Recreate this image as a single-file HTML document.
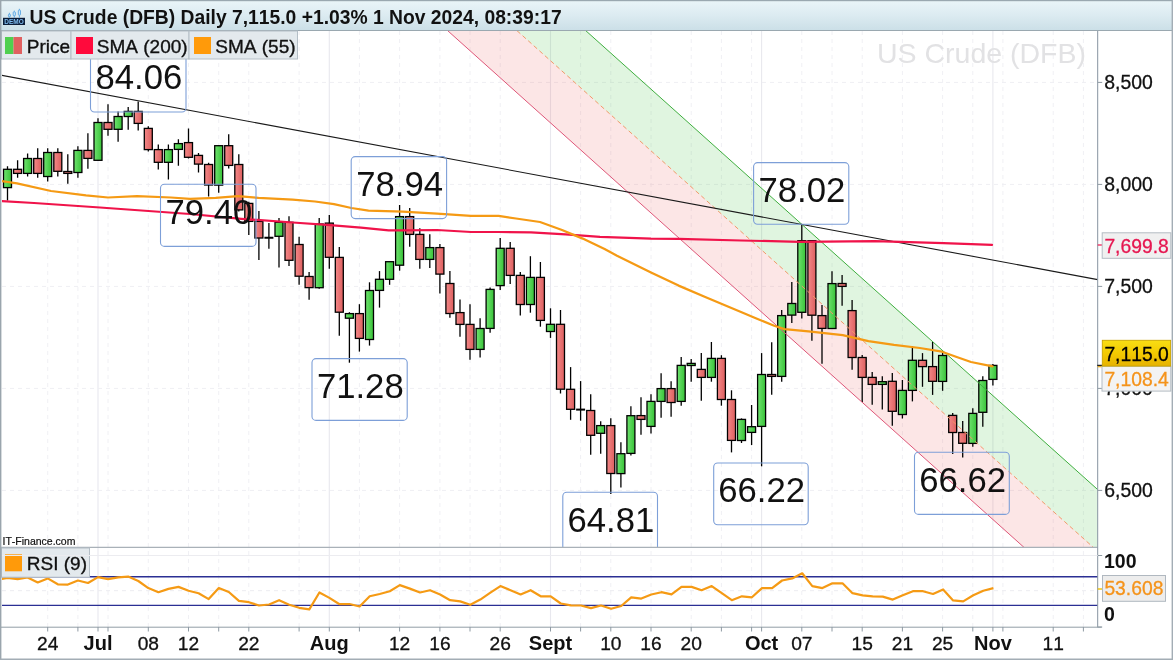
<!DOCTYPE html><html><head><meta charset="utf-8"><title>US Crude</title>
<style>html,body{margin:0;padding:0;background:#fff;}body{width:1173px;height:660px;overflow:hidden;font-family:"Liberation Sans",sans-serif;}svg{display:block;will-change:transform;opacity:0.9999;}text{font-family:"Liberation Sans",sans-serif;font-kerning:none;}</style></head><body>
<svg width="1173" height="660" viewBox="0 0 1173 660">
<defs>
<linearGradient id="tb" x1="0" y1="0" x2="0" y2="1"><stop offset="0" stop-color="#eaf5f9"/><stop offset="0.5" stop-color="#dcebf1"/><stop offset="1" stop-color="#cbdfe7"/></linearGradient>
<linearGradient id="gg" x1="0" y1="0" x2="1" y2="0"><stop offset="0" stop-color="#6fe36f"/><stop offset="1" stop-color="#38c238"/></linearGradient>
<linearGradient id="rg" x1="0" y1="0" x2="1" y2="0"><stop offset="0" stop-color="#f38888"/><stop offset="1" stop-color="#dd5f5f"/></linearGradient>
<linearGradient id="yg" x1="0" y1="0" x2="0" y2="1"><stop offset="0" stop-color="#f9de14"/><stop offset="0.55" stop-color="#f2c800"/><stop offset="1" stop-color="#e6b200"/></linearGradient>
<clipPath id="cc"><rect x="2" y="31" width="1095.7" height="516.3"/></clipPath>
<clipPath id="rc"><rect x="2" y="548" width="1095.7" height="79"/></clipPath>
</defs>
<rect x="0" y="0" width="1173" height="660" fill="#ffffff"/>
<g id="grid" fill="none">
<line x1="47.7" y1="31" x2="47.7" y2="627" stroke="#f0f0f4" stroke-width="1" stroke-dasharray="4 4"/>
<line x1="77.9" y1="31" x2="77.9" y2="627" stroke="#f0f0f4" stroke-width="1" stroke-dasharray="4 4"/>
<line x1="98.0" y1="31" x2="98.0" y2="627" stroke="#e8e8ee" stroke-width="1.1"/>
<line x1="108.0" y1="31" x2="108.0" y2="627" stroke="#f0f0f4" stroke-width="1" stroke-dasharray="4 4"/>
<line x1="148.3" y1="31" x2="148.3" y2="627" stroke="#f0f0f4" stroke-width="1" stroke-dasharray="4 4"/>
<line x1="188.5" y1="31" x2="188.5" y2="627" stroke="#f0f0f4" stroke-width="1" stroke-dasharray="4 4"/>
<line x1="218.7" y1="31" x2="218.7" y2="627" stroke="#f0f0f4" stroke-width="1" stroke-dasharray="4 4"/>
<line x1="248.8" y1="31" x2="248.8" y2="627" stroke="#f0f0f4" stroke-width="1" stroke-dasharray="4 4"/>
<line x1="299.1" y1="31" x2="299.1" y2="627" stroke="#f0f0f4" stroke-width="1" stroke-dasharray="4 4"/>
<line x1="329.3" y1="31" x2="329.3" y2="627" stroke="#e8e8ee" stroke-width="1.1"/>
<line x1="359.4" y1="31" x2="359.4" y2="627" stroke="#f0f0f4" stroke-width="1" stroke-dasharray="4 4"/>
<line x1="399.6" y1="31" x2="399.6" y2="627" stroke="#f0f0f4" stroke-width="1" stroke-dasharray="4 4"/>
<line x1="439.9" y1="31" x2="439.9" y2="627" stroke="#f0f0f4" stroke-width="1" stroke-dasharray="4 4"/>
<line x1="470.0" y1="31" x2="470.0" y2="627" stroke="#f0f0f4" stroke-width="1" stroke-dasharray="4 4"/>
<line x1="500.2" y1="31" x2="500.2" y2="627" stroke="#f0f0f4" stroke-width="1" stroke-dasharray="4 4"/>
<line x1="550.5" y1="31" x2="550.5" y2="627" stroke="#e8e8ee" stroke-width="1.1"/>
<line x1="580.6" y1="31" x2="580.6" y2="627" stroke="#f0f0f4" stroke-width="1" stroke-dasharray="4 4"/>
<line x1="610.8" y1="31" x2="610.8" y2="627" stroke="#f0f0f4" stroke-width="1" stroke-dasharray="4 4"/>
<line x1="651.0" y1="31" x2="651.0" y2="627" stroke="#f0f0f4" stroke-width="1" stroke-dasharray="4 4"/>
<line x1="691.2" y1="31" x2="691.2" y2="627" stroke="#f0f0f4" stroke-width="1" stroke-dasharray="4 4"/>
<line x1="721.4" y1="31" x2="721.4" y2="627" stroke="#f0f0f4" stroke-width="1" stroke-dasharray="4 4"/>
<line x1="751.6" y1="31" x2="751.6" y2="627" stroke="#f0f0f4" stroke-width="1" stroke-dasharray="4 4"/>
<line x1="761.6" y1="31" x2="761.6" y2="627" stroke="#e8e8ee" stroke-width="1.1"/>
<line x1="801.8" y1="31" x2="801.8" y2="627" stroke="#f0f0f4" stroke-width="1" stroke-dasharray="4 4"/>
<line x1="832.0" y1="31" x2="832.0" y2="627" stroke="#f0f0f4" stroke-width="1" stroke-dasharray="4 4"/>
<line x1="862.2" y1="31" x2="862.2" y2="627" stroke="#f0f0f4" stroke-width="1" stroke-dasharray="4 4"/>
<line x1="902.4" y1="31" x2="902.4" y2="627" stroke="#f0f0f4" stroke-width="1" stroke-dasharray="4 4"/>
<line x1="942.6" y1="31" x2="942.6" y2="627" stroke="#f0f0f4" stroke-width="1" stroke-dasharray="4 4"/>
<line x1="972.8" y1="31" x2="972.8" y2="627" stroke="#f0f0f4" stroke-width="1" stroke-dasharray="4 4"/>
<line x1="992.9" y1="31" x2="992.9" y2="627" stroke="#e8e8ee" stroke-width="1.1"/>
<line x1="1002.9" y1="31" x2="1002.9" y2="627" stroke="#f0f0f4" stroke-width="1" stroke-dasharray="4 4"/>
<line x1="1053.2" y1="31" x2="1053.2" y2="627" stroke="#f0f0f4" stroke-width="1" stroke-dasharray="4 4"/>
<line x1="1083.4" y1="31" x2="1083.4" y2="627" stroke="#f0f0f4" stroke-width="1" stroke-dasharray="4 4"/>
<line x1="2" y1="82.4" x2="1097.7" y2="82.4" stroke="#efeff3" stroke-width="1" stroke-dasharray="4 4"/>
<line x1="2" y1="184.4" x2="1097.7" y2="184.4" stroke="#efeff3" stroke-width="1" stroke-dasharray="4 4"/>
<line x1="2" y1="286.4" x2="1097.7" y2="286.4" stroke="#efeff3" stroke-width="1" stroke-dasharray="4 4"/>
<line x1="2" y1="388.4" x2="1097.7" y2="388.4" stroke="#efeff3" stroke-width="1" stroke-dasharray="4 4"/>
<line x1="2" y1="490.4" x2="1097.7" y2="490.4" stroke="#efeff3" stroke-width="1" stroke-dasharray="4 4"/>
<line x1="2" y1="590.7" x2="1097.7" y2="590.7" stroke="#ececf0" stroke-width="1" stroke-dasharray="4 4"/>
</g>
<text x="981.5" y="62.5" font-size="28.5" fill="#e2e2e4" text-anchor="middle">US Crude (DFB)</text>
<g clip-path="url(#cc)">
<polygon points="447.7,30.7 517.0,30.7 1094.0,548 1024.7,548" fill="rgb(235,80,80)" fill-opacity="0.145"/>
<polygon points="517.0,30.7 585.8,30.7 1097.7,489.6 1097.7,548 1094.0,548" fill="rgb(60,190,60)" fill-opacity="0.16"/>
</g>
<g clip-path="url(#cc)" stroke="#000" stroke-width="1.3">
<line x1="7.5" y1="166.2" x2="7.5" y2="200.4"/>
<rect x="3.5" y="169.3" width="8" height="18.3" fill="url(#gg)"/>
<line x1="17.6" y1="160.2" x2="17.6" y2="177.7"/>
<rect x="13.6" y="169.3" width="8" height="4.1" fill="url(#rg)"/>
<line x1="27.6" y1="153.4" x2="27.6" y2="176.5"/>
<rect x="23.6" y="158.5" width="8" height="14.9" fill="url(#gg)"/>
<line x1="37.7" y1="148.2" x2="37.7" y2="177.7"/>
<rect x="33.7" y="158.5" width="8" height="14.9" fill="url(#rg)"/>
<line x1="47.7" y1="148.2" x2="47.7" y2="181.6"/>
<rect x="43.7" y="152.5" width="8" height="24.0" fill="url(#gg)"/>
<line x1="57.8" y1="148.2" x2="57.8" y2="176.5"/>
<rect x="53.8" y="152.5" width="8" height="18.8" fill="url(#rg)"/>
<line x1="67.8" y1="154.2" x2="67.8" y2="183.7"/>
<rect x="63.8" y="171.5" width="8" height="1.9" fill="url(#rg)"/>
<line x1="77.9" y1="146.2" x2="77.9" y2="177.7"/>
<rect x="73.9" y="150.4" width="8" height="22.1" fill="url(#gg)"/>
<line x1="87.9" y1="133.2" x2="87.9" y2="168.8"/>
<rect x="83.9" y="150.4" width="8" height="8.0" fill="url(#rg)"/>
<line x1="98.0" y1="118.3" x2="98.0" y2="160.4"/>
<rect x="94.0" y="122.5" width="8" height="37.8" fill="url(#gg)"/>
<line x1="108.0" y1="104.2" x2="108.0" y2="135.7"/>
<rect x="104.0" y="122.5" width="8" height="6.8" fill="url(#rg)"/>
<line x1="118.1" y1="111.4" x2="118.1" y2="141.7"/>
<rect x="114.1" y="116.5" width="8" height="12.8" fill="url(#gg)"/>
<line x1="128.2" y1="107.1" x2="128.2" y2="129.7"/>
<rect x="124.2" y="111.4" width="8" height="5.1" fill="url(#gg)"/>
<line x1="138.2" y1="101.6" x2="138.2" y2="130.6"/>
<rect x="134.2" y="111.4" width="8" height="12.0" fill="url(#rg)"/>
<line x1="148.3" y1="126.3" x2="148.3" y2="151.6"/>
<rect x="144.3" y="128.4" width="8" height="21.2" fill="url(#rg)"/>
<line x1="158.3" y1="144.5" x2="158.3" y2="169.6"/>
<rect x="154.3" y="149.6" width="8" height="12.7" fill="url(#rg)"/>
<line x1="168.4" y1="144.5" x2="168.4" y2="179.6"/>
<rect x="164.4" y="149.6" width="8" height="12.7" fill="url(#gg)"/>
<line x1="178.4" y1="139.3" x2="178.4" y2="165.7"/>
<rect x="174.4" y="143.6" width="8" height="5.8" fill="url(#gg)"/>
<line x1="188.5" y1="128.4" x2="188.5" y2="158.5"/>
<rect x="184.5" y="142.6" width="8" height="14.7" fill="url(#rg)"/>
<line x1="198.5" y1="152.9" x2="198.5" y2="172.6"/>
<rect x="194.5" y="155.4" width="8" height="8.7" fill="url(#rg)"/>
<line x1="208.6" y1="162.8" x2="208.6" y2="196.5"/>
<rect x="204.6" y="164.5" width="8" height="20.5" fill="url(#rg)"/>
<line x1="218.7" y1="145.3" x2="218.7" y2="192.8"/>
<rect x="214.7" y="145.7" width="8" height="39.4" fill="url(#gg)"/>
<line x1="228.7" y1="134.2" x2="228.7" y2="168.5"/>
<rect x="224.7" y="145.7" width="8" height="19.7" fill="url(#rg)"/>
<line x1="238.8" y1="154.2" x2="238.8" y2="211.6"/>
<rect x="234.8" y="164.5" width="8" height="45.4" fill="url(#rg)"/>
<line x1="248.8" y1="201.7" x2="248.8" y2="235.1"/>
<rect x="244.8" y="203.4" width="8" height="18.0" fill="url(#rg)"/>
<line x1="258.9" y1="211.1" x2="258.9" y2="259.9"/>
<rect x="254.9" y="221.4" width="8" height="16.6" fill="url(#rg)"/>
<line x1="268.9" y1="223.1" x2="268.9" y2="248.8"/>
<line x1="264.4" y1="237.7" x2="273.4" y2="237.7" stroke-width="2"/>
<line x1="279.0" y1="218.0" x2="279.0" y2="267.6"/>
<rect x="275.0" y="222.3" width="8" height="14.0" fill="url(#gg)"/>
<line x1="289.0" y1="216.3" x2="289.0" y2="265.9"/>
<rect x="285.0" y="222.3" width="8" height="38.0" fill="url(#rg)"/>
<line x1="299.1" y1="236.8" x2="299.1" y2="284.8"/>
<rect x="295.1" y="244.5" width="8" height="31.7" fill="url(#rg)"/>
<line x1="309.1" y1="271.9" x2="309.1" y2="299.8"/>
<rect x="305.1" y="276.5" width="8" height="11.1" fill="url(#rg)"/>
<line x1="319.2" y1="218.0" x2="319.2" y2="288.7"/>
<rect x="315.2" y="224.0" width="8" height="63.7" fill="url(#gg)"/>
<line x1="329.3" y1="215.1" x2="329.3" y2="268.8"/>
<rect x="325.3" y="223.1" width="8" height="34.2" fill="url(#rg)"/>
<line x1="339.3" y1="247.1" x2="339.3" y2="335.8"/>
<rect x="335.3" y="257.4" width="8" height="54.8" fill="url(#rg)"/>
<line x1="349.4" y1="312.2" x2="349.4" y2="362.7"/>
<rect x="345.4" y="313.6" width="8" height="4.6" fill="url(#gg)"/>
<line x1="359.4" y1="304.2" x2="359.4" y2="351.6"/>
<rect x="355.4" y="313.6" width="8" height="24.8" fill="url(#rg)"/>
<line x1="369.5" y1="282.3" x2="369.5" y2="345.6"/>
<rect x="365.5" y="290.5" width="8" height="49.0" fill="url(#gg)"/>
<line x1="379.5" y1="271.1" x2="379.5" y2="307.6"/>
<rect x="375.5" y="279.3" width="8" height="11.1" fill="url(#gg)"/>
<line x1="389.6" y1="261.7" x2="389.6" y2="284.8"/>
<rect x="385.6" y="261.7" width="8" height="17.6" fill="url(#gg)"/>
<line x1="399.6" y1="205.1" x2="399.6" y2="270.7"/>
<rect x="395.6" y="216.6" width="8" height="48.6" fill="url(#gg)"/>
<line x1="409.7" y1="208.0" x2="409.7" y2="246.7"/>
<rect x="405.7" y="216.6" width="8" height="17.8" fill="url(#rg)"/>
<line x1="419.8" y1="228.2" x2="419.8" y2="268.8"/>
<rect x="415.8" y="234.4" width="8" height="25.0" fill="url(#rg)"/>
<line x1="429.8" y1="234.2" x2="429.8" y2="267.9"/>
<rect x="425.8" y="247.6" width="8" height="11.8" fill="url(#gg)"/>
<line x1="439.9" y1="244.0" x2="439.9" y2="293.6"/>
<rect x="435.9" y="247.6" width="8" height="26.5" fill="url(#rg)"/>
<line x1="449.9" y1="271.1" x2="449.9" y2="317.7"/>
<rect x="445.9" y="283.5" width="8" height="30.0" fill="url(#rg)"/>
<line x1="460.0" y1="299.4" x2="460.0" y2="336.7"/>
<rect x="456.0" y="312.6" width="8" height="11.8" fill="url(#rg)"/>
<line x1="470.0" y1="304.2" x2="470.0" y2="359.8"/>
<rect x="466.0" y="324.4" width="8" height="25.0" fill="url(#rg)"/>
<line x1="480.1" y1="318.2" x2="480.1" y2="357.6"/>
<rect x="476.1" y="328.5" width="8" height="20.9" fill="url(#gg)"/>
<line x1="490.1" y1="287.4" x2="490.1" y2="332.7"/>
<rect x="486.1" y="289.4" width="8" height="39.0" fill="url(#gg)"/>
<line x1="500.2" y1="238.0" x2="500.2" y2="289.9"/>
<rect x="496.2" y="248.3" width="8" height="37.3" fill="url(#gg)"/>
<line x1="510.2" y1="242.0" x2="510.2" y2="283.9"/>
<rect x="506.2" y="248.3" width="8" height="27.1" fill="url(#rg)"/>
<line x1="520.3" y1="272.0" x2="520.3" y2="315.6"/>
<rect x="516.3" y="275.4" width="8" height="29.1" fill="url(#rg)"/>
<line x1="530.4" y1="256.2" x2="530.4" y2="312.7"/>
<rect x="526.4" y="277.4" width="8" height="27.1" fill="url(#gg)"/>
<line x1="540.4" y1="262.0" x2="540.4" y2="326.7"/>
<rect x="536.4" y="277.4" width="8" height="43.0" fill="url(#rg)"/>
<line x1="550.5" y1="308.3" x2="550.5" y2="337.9"/>
<rect x="546.5" y="324.3" width="8" height="7.2" fill="url(#gg)"/>
<line x1="560.5" y1="310.0" x2="560.5" y2="393.5"/>
<rect x="556.5" y="324.3" width="8" height="64.9" fill="url(#rg)"/>
<line x1="570.6" y1="367.1" x2="570.6" y2="419.8"/>
<rect x="566.6" y="389.3" width="8" height="20.0" fill="url(#rg)"/>
<line x1="580.6" y1="381.1" x2="580.6" y2="420.7"/>
<line x1="576.1" y1="409.6" x2="585.1" y2="409.6" stroke-width="2"/>
<line x1="590.7" y1="394.3" x2="590.7" y2="454.7"/>
<rect x="586.7" y="410.5" width="8" height="24.8" fill="url(#rg)"/>
<line x1="600.7" y1="421.3" x2="600.7" y2="453.7"/>
<rect x="596.7" y="425.6" width="8" height="7.7" fill="url(#gg)"/>
<line x1="610.8" y1="418.3" x2="610.8" y2="494.1"/>
<rect x="606.8" y="425.6" width="8" height="47.9" fill="url(#rg)"/>
<line x1="620.9" y1="442.2" x2="620.9" y2="487.6"/>
<rect x="616.9" y="453.7" width="8" height="19.9" fill="url(#gg)"/>
<line x1="630.9" y1="406.3" x2="630.9" y2="455.6"/>
<rect x="626.9" y="415.7" width="8" height="37.7" fill="url(#gg)"/>
<line x1="641.0" y1="397.3" x2="641.0" y2="434.8"/>
<rect x="637.0" y="415.6" width="8" height="3.8" fill="url(#rg)"/>
<line x1="651.0" y1="394.2" x2="651.0" y2="433.6"/>
<rect x="647.0" y="401.4" width="8" height="25.0" fill="url(#gg)"/>
<line x1="661.1" y1="373.2" x2="661.1" y2="417.8"/>
<rect x="657.1" y="388.6" width="8" height="12.8" fill="url(#gg)"/>
<line x1="671.1" y1="381.2" x2="671.1" y2="416.8"/>
<rect x="667.1" y="388.6" width="8" height="13.9" fill="url(#rg)"/>
<line x1="681.2" y1="357.1" x2="681.2" y2="405.7"/>
<rect x="677.2" y="365.4" width="8" height="36.0" fill="url(#gg)"/>
<line x1="691.2" y1="359.1" x2="691.2" y2="381.7"/>
<rect x="687.2" y="363.4" width="8" height="2.1" fill="url(#gg)"/>
<line x1="701.3" y1="353.1" x2="701.3" y2="400.7"/>
<rect x="697.3" y="369.4" width="8" height="8.0" fill="url(#rg)"/>
<line x1="711.4" y1="342.0" x2="711.4" y2="381.7"/>
<rect x="707.4" y="358.4" width="8" height="19.0" fill="url(#gg)"/>
<line x1="721.4" y1="355.2" x2="721.4" y2="405.7"/>
<rect x="717.4" y="358.4" width="8" height="41.1" fill="url(#rg)"/>
<line x1="731.5" y1="390.3" x2="731.5" y2="452.4"/>
<rect x="727.5" y="399.5" width="8" height="40.9" fill="url(#rg)"/>
<line x1="741.5" y1="418.4" x2="741.5" y2="443.0"/>
<rect x="737.5" y="419.4" width="8" height="21.1" fill="url(#gg)"/>
<line x1="751.6" y1="405.0" x2="751.6" y2="445.1"/>
<rect x="747.6" y="426.7" width="8" height="5.7" fill="url(#gg)"/>
<line x1="761.6" y1="353.1" x2="761.6" y2="466.3"/>
<rect x="757.6" y="374.5" width="8" height="51.9" fill="url(#gg)"/>
<line x1="771.7" y1="342.3" x2="771.7" y2="394.7"/>
<rect x="767.7" y="374.5" width="8" height="1.9" fill="url(#rg)"/>
<line x1="781.7" y1="309.9" x2="781.7" y2="381.7"/>
<rect x="777.7" y="315.6" width="8" height="60.8" fill="url(#gg)"/>
<line x1="791.8" y1="282.1" x2="791.8" y2="322.9"/>
<rect x="787.8" y="303.5" width="8" height="11.6" fill="url(#gg)"/>
<line x1="801.8" y1="224.9" x2="801.8" y2="318.6"/>
<rect x="797.8" y="240.7" width="8" height="71.6" fill="url(#gg)"/>
<line x1="811.9" y1="240.7" x2="811.9" y2="340.7"/>
<rect x="807.9" y="240.7" width="8" height="74.5" fill="url(#rg)"/>
<line x1="822.0" y1="305.1" x2="822.0" y2="363.7"/>
<rect x="818.0" y="315.6" width="8" height="12.8" fill="url(#rg)"/>
<line x1="832.0" y1="271.2" x2="832.0" y2="329.1"/>
<rect x="828.0" y="283.6" width="8" height="44.9" fill="url(#gg)"/>
<line x1="842.1" y1="274.9" x2="842.1" y2="305.8"/>
<rect x="838.1" y="283.5" width="8" height="2.9" fill="url(#rg)"/>
<line x1="852.1" y1="300.0" x2="852.1" y2="369.7"/>
<rect x="848.1" y="310.6" width="8" height="46.9" fill="url(#rg)"/>
<line x1="862.2" y1="355.1" x2="862.2" y2="401.9"/>
<rect x="858.2" y="357.5" width="8" height="19.9" fill="url(#rg)"/>
<line x1="872.2" y1="371.9" x2="872.2" y2="404.8"/>
<rect x="868.2" y="377.4" width="8" height="7.0" fill="url(#rg)"/>
<line x1="882.3" y1="376.2" x2="882.3" y2="409.6"/>
<rect x="878.3" y="381.7" width="8" height="2.7" fill="url(#gg)"/>
<line x1="892.3" y1="373.1" x2="892.3" y2="425.7"/>
<rect x="888.3" y="381.3" width="8" height="30.0" fill="url(#rg)"/>
<line x1="902.4" y1="380.0" x2="902.4" y2="418.5"/>
<rect x="898.4" y="390.4" width="8" height="24.1" fill="url(#gg)"/>
<line x1="912.4" y1="346.2" x2="912.4" y2="401.4"/>
<rect x="908.4" y="360.3" width="8" height="30.1" fill="url(#gg)"/>
<line x1="922.5" y1="353.1" x2="922.5" y2="386.8"/>
<rect x="918.5" y="360.3" width="8" height="6.3" fill="url(#rg)"/>
<line x1="932.6" y1="342.0" x2="932.6" y2="394.9"/>
<rect x="928.6" y="366.6" width="8" height="14.7" fill="url(#rg)"/>
<line x1="942.6" y1="351.7" x2="942.6" y2="390.8"/>
<rect x="938.6" y="355.5" width="8" height="25.9" fill="url(#gg)"/>
<line x1="952.7" y1="413.0" x2="952.7" y2="454.1"/>
<rect x="948.7" y="415.4" width="8" height="17.1" fill="url(#rg)"/>
<line x1="962.7" y1="421.1" x2="962.7" y2="457.5"/>
<rect x="958.7" y="432.5" width="8" height="10.8" fill="url(#rg)"/>
<line x1="972.8" y1="408.2" x2="972.8" y2="446.7"/>
<rect x="968.8" y="413.4" width="8" height="30.0" fill="url(#gg)"/>
<line x1="982.8" y1="376.2" x2="982.8" y2="426.7"/>
<rect x="978.8" y="380.5" width="8" height="31.8" fill="url(#gg)"/>
<line x1="992.9" y1="364.0" x2="992.9" y2="385.6"/>
<rect x="988.9" y="365.4" width="8" height="14.0" fill="url(#gg)"/>
</g>
<g clip-path="url(#cc)">
<line x1="447.7" y1="30.7" x2="1024.7" y2="548" stroke="#de5678" stroke-width="1"/>
<line x1="585.8" y1="30.7" x2="1097.7" y2="489.6" stroke="#3fae3f" stroke-width="1"/>
<line x1="517.0" y1="30.7" x2="1094.0" y2="548" stroke="#f2986a" stroke-width="1" stroke-dasharray="4.5 3"/>
<line x1="0" y1="75" x2="1097.7" y2="279.6" stroke="#1a1a1a" stroke-width="1.1"/>
</g>
<g clip-path="url(#cc)" fill="none" stroke-linejoin="round" stroke-linecap="round">
<path d="M0.0,201.0 L34.0,203.0 L100.0,207.5 L190.0,214.0 L241.4,218.8 L292.7,222.5 L327.0,224.8 L361.0,227.7 L388.6,230.4 L402.7,230.3 L437.0,230.0 L471.0,232.0 L498.6,232.0 L531.0,232.3 L565.6,234.3 L600.0,236.8 L651.0,238.6 L678.6,238.8 L741.0,240.5 L800.0,241.8 L875.0,241.1 L943.5,243.2 L992.0,244.9" stroke="#f0134a" stroke-width="2.2"/>
<path d="M0.0,180.8 L17.0,183.3 L51.0,191.0 L86.0,195.3 L108.0,197.5 L137.0,196.2 L171.0,197.5 L190.0,198.8 L215.7,197.9 L238.0,196.2 L258.5,197.9 L292.7,199.6 L315.0,201.5 L334.0,204.2 L351.4,208.0 L368.5,210.6 L402.7,211.6 L437.0,213.7 L471.0,215.9 L498.6,215.9 L516.0,218.5 L540.0,222.0 L562.0,230.0 L582.7,238.6 L604.6,249.0 L617.0,255.7 L651.0,272.5 L678.6,285.6 L707.0,297.7 L741.0,312.0 L757.0,318.8 L774.2,325.7 L784.5,329.1 L808.5,331.3 L842.7,335.1 L868.4,341.1 L894.0,344.9 L919.8,348.0 L942.0,351.7 L956.0,356.8 L971.0,362.0 L992.5,366.3" stroke="#f59a14" stroke-width="2.25"/>
</g>
<g clip-path="url(#cc)">
<rect x="90.5" y="50" width="95.5" height="62" rx="4" ry="4" fill="none" stroke="#7d9fd8" stroke-width="1.1"/>
<text x="138.9" y="89.3" font-size="34.7" fill="#111" text-anchor="middle">84.06</text>
<rect x="160.5" y="184.2" width="95.5" height="62.20000000000002" rx="4" ry="4" fill="none" stroke="#7d9fd8" stroke-width="1.1"/>
<text x="208.9" y="223.5" font-size="34.7" fill="#111" text-anchor="middle">79.40</text>
<rect x="351.2" y="156.6" width="95.40000000000003" height="62.0" rx="4" ry="4" fill="none" stroke="#7d9fd8" stroke-width="1.1"/>
<text x="399.6" y="195.9" font-size="34.7" fill="#111" text-anchor="middle">78.94</text>
<rect x="312" y="358.6" width="95.19999999999999" height="61.799999999999955" rx="4" ry="4" fill="none" stroke="#7d9fd8" stroke-width="1.1"/>
<text x="360.3" y="397.9" font-size="34.7" fill="#111" text-anchor="middle">71.28</text>
<rect x="562.8" y="492.3" width="94.70000000000005" height="61.69999999999999" rx="4" ry="4" fill="none" stroke="#7d9fd8" stroke-width="1.1"/>
<text x="610.9" y="531.6" font-size="34.7" fill="#111" text-anchor="middle">64.81</text>
<rect x="713.7" y="463" width="94.5" height="61.799999999999955" rx="4" ry="4" fill="none" stroke="#7d9fd8" stroke-width="1.1"/>
<text x="761.7" y="502.3" font-size="34.7" fill="#111" text-anchor="middle">66.22</text>
<rect x="753.6" y="162.6" width="95.19999999999993" height="61.599999999999994" rx="4" ry="4" fill="none" stroke="#7d9fd8" stroke-width="1.1"/>
<text x="801.9" y="201.9" font-size="34.7" fill="#111" text-anchor="middle">78.02</text>
<rect x="914.5" y="452.2" width="94.79999999999995" height="62.19999999999999" rx="4" ry="4" fill="none" stroke="#7d9fd8" stroke-width="1.1"/>
<text x="962.6" y="491.5" font-size="34.7" fill="#111" text-anchor="middle">66.62</text>
</g>
<text x="2.5" y="545.3" font-size="10.5" fill="#111" stroke="#111" stroke-width="0.2">IT-Finance.com</text>
<line x1="0" y1="547.3" x2="1097.7" y2="547.3" stroke="#a9b1b8" stroke-width="1.2"/>
<line x1="2" y1="576.7" x2="1097.7" y2="576.7" stroke="#2b2f94" stroke-width="1.35"/>
<line x1="2" y1="605.3" x2="1097.7" y2="605.3" stroke="#2b2f94" stroke-width="1.35"/>
<g clip-path="url(#rc)"><path d="M0.0,579.2 L7.5,577.9 L17.6,579.2 L27.6,577.4 L37.7,582.5 L47.7,578.4 L57.8,584.3 L67.9,584.6 L77.9,580.5 L88.0,583.0 L98.0,577.1 L108.1,579.2 L118.2,577.4 L128.2,576.6 L138.3,581.0 L148.3,588.1 L158.4,592.2 L168.5,588.9 L178.5,586.9 L188.6,590.7 L198.6,593.2 L208.7,599.1 L218.8,588.1 L228.8,592.0 L238.9,600.9 L248.9,602.2 L259.0,605.5 L269.1,604.5 L279.1,600.2 L289.2,604.8 L299.2,607.8 L309.3,609.4 L319.4,592.5 L329.4,597.9 L339.5,604.2 L349.5,604.0 L359.6,606.5 L369.7,596.3 L379.7,594.0 L389.8,591.2 L399.8,585.1 L409.9,588.6 L420.0,592.5 L430.0,590.2 L440.1,594.5 L450.1,600.2 L460.2,601.4 L470.3,604.8 L480.3,599.6 L490.4,592.7 L500.4,586.1 L510.5,590.2 L520.6,594.5 L530.6,590.2 L540.7,596.3 L550.7,596.3 L560.8,603.5 L570.9,605.3 L580.9,605.5 L591.0,608.1 L601.0,605.5 L611.1,608.8 L621.2,606.0 L631.2,597.3 L641.3,598.6 L651.3,594.5 L661.4,592.2 L671.5,594.3 L681.5,586.9 L691.6,586.9 L701.6,590.2 L711.7,586.1 L721.8,593.2 L731.8,600.2 L741.9,596.3 L751.9,597.3 L762.0,588.1 L772.1,588.1 L782.1,580.5 L792.2,578.4 L802.2,573.3 L812.3,586.1 L822.4,588.1 L832.4,583.3 L842.5,583.3 L852.5,593.2 L862.6,595.3 L872.7,596.3 L882.7,596.6 L892.8,599.6 L902.8,595.3 L912.9,591.2 L923.0,591.2 L933.0,594.0 L943.1,589.4 L953.1,600.4 L963.2,601.4 L973.3,595.3 L983.3,590.7 L993.4,588.1" fill="none" stroke="#f59a14" stroke-width="2.2" stroke-linejoin="round"/></g>
<rect x="1.5" y="548" width="88" height="29.2" fill="#e3e9ed" stroke="#b4bec6" stroke-width="1"/>
<rect x="5" y="554.3" width="17" height="17" fill="#ff9a0a"/>
<text x="26.8" y="569.6" font-size="19" fill="#111" stroke="#111" stroke-width="0.35">RSI (9)</text>
<line x1="1097.7" y1="31" x2="1097.7" y2="627.3" stroke="#8793a0" stroke-width="1"/>
<line x1="0" y1="627.2" x2="1101.7" y2="627.2" stroke="#929da6" stroke-width="1"/>
<line x1="47.7" y1="627" x2="47.7" y2="631.5" stroke="#8e9aa3" stroke-width="1"/>
<line x1="77.9" y1="627" x2="77.9" y2="631.5" stroke="#8e9aa3" stroke-width="1"/>
<line x1="98.0" y1="627" x2="98.0" y2="631.5" stroke="#8e9aa3" stroke-width="1"/>
<line x1="108.0" y1="627" x2="108.0" y2="631.5" stroke="#8e9aa3" stroke-width="1"/>
<line x1="148.3" y1="627" x2="148.3" y2="631.5" stroke="#8e9aa3" stroke-width="1"/>
<line x1="188.5" y1="627" x2="188.5" y2="631.5" stroke="#8e9aa3" stroke-width="1"/>
<line x1="218.7" y1="627" x2="218.7" y2="631.5" stroke="#8e9aa3" stroke-width="1"/>
<line x1="248.8" y1="627" x2="248.8" y2="631.5" stroke="#8e9aa3" stroke-width="1"/>
<line x1="299.1" y1="627" x2="299.1" y2="631.5" stroke="#8e9aa3" stroke-width="1"/>
<line x1="329.3" y1="627" x2="329.3" y2="631.5" stroke="#8e9aa3" stroke-width="1"/>
<line x1="359.4" y1="627" x2="359.4" y2="631.5" stroke="#8e9aa3" stroke-width="1"/>
<line x1="399.6" y1="627" x2="399.6" y2="631.5" stroke="#8e9aa3" stroke-width="1"/>
<line x1="439.9" y1="627" x2="439.9" y2="631.5" stroke="#8e9aa3" stroke-width="1"/>
<line x1="470.0" y1="627" x2="470.0" y2="631.5" stroke="#8e9aa3" stroke-width="1"/>
<line x1="500.2" y1="627" x2="500.2" y2="631.5" stroke="#8e9aa3" stroke-width="1"/>
<line x1="550.5" y1="627" x2="550.5" y2="631.5" stroke="#8e9aa3" stroke-width="1"/>
<line x1="580.6" y1="627" x2="580.6" y2="631.5" stroke="#8e9aa3" stroke-width="1"/>
<line x1="610.8" y1="627" x2="610.8" y2="631.5" stroke="#8e9aa3" stroke-width="1"/>
<line x1="651.0" y1="627" x2="651.0" y2="631.5" stroke="#8e9aa3" stroke-width="1"/>
<line x1="691.2" y1="627" x2="691.2" y2="631.5" stroke="#8e9aa3" stroke-width="1"/>
<line x1="721.4" y1="627" x2="721.4" y2="631.5" stroke="#8e9aa3" stroke-width="1"/>
<line x1="751.6" y1="627" x2="751.6" y2="631.5" stroke="#8e9aa3" stroke-width="1"/>
<line x1="761.6" y1="627" x2="761.6" y2="631.5" stroke="#8e9aa3" stroke-width="1"/>
<line x1="801.8" y1="627" x2="801.8" y2="631.5" stroke="#8e9aa3" stroke-width="1"/>
<line x1="832.0" y1="627" x2="832.0" y2="631.5" stroke="#8e9aa3" stroke-width="1"/>
<line x1="862.2" y1="627" x2="862.2" y2="631.5" stroke="#8e9aa3" stroke-width="1"/>
<line x1="902.4" y1="627" x2="902.4" y2="631.5" stroke="#8e9aa3" stroke-width="1"/>
<line x1="942.6" y1="627" x2="942.6" y2="631.5" stroke="#8e9aa3" stroke-width="1"/>
<line x1="972.8" y1="627" x2="972.8" y2="631.5" stroke="#8e9aa3" stroke-width="1"/>
<line x1="992.9" y1="627" x2="992.9" y2="631.5" stroke="#8e9aa3" stroke-width="1"/>
<line x1="1002.9" y1="627" x2="1002.9" y2="631.5" stroke="#8e9aa3" stroke-width="1"/>
<line x1="1053.2" y1="627" x2="1053.2" y2="631.5" stroke="#8e9aa3" stroke-width="1"/>
<line x1="1083.4" y1="627" x2="1083.4" y2="631.5" stroke="#8e9aa3" stroke-width="1"/>
<line x1="1097.7" y1="82.4" x2="1102.2" y2="82.4" stroke="#8e9aa3" stroke-width="1"/>
<text x="1104.3" y="89.1" font-size="19.4" fill="#111" stroke="#111" stroke-width="0.3">8,500</text>
<line x1="1097.7" y1="184.4" x2="1102.2" y2="184.4" stroke="#8e9aa3" stroke-width="1"/>
<text x="1104.3" y="191.1" font-size="19.4" fill="#111" stroke="#111" stroke-width="0.3">8,000</text>
<line x1="1097.7" y1="286.4" x2="1102.2" y2="286.4" stroke="#8e9aa3" stroke-width="1"/>
<text x="1104.3" y="293.1" font-size="19.4" fill="#111" stroke="#111" stroke-width="0.3">7,500</text>
<line x1="1097.7" y1="388.4" x2="1102.2" y2="388.4" stroke="#8e9aa3" stroke-width="1"/>
<text x="1104.3" y="395.1" font-size="19.4" fill="#111" stroke="#111" stroke-width="0.3">7,000</text>
<line x1="1097.7" y1="490.4" x2="1102.2" y2="490.4" stroke="#8e9aa3" stroke-width="1"/>
<text x="1104.3" y="497.1" font-size="19.4" fill="#111" stroke="#111" stroke-width="0.3">6,500</text>
<line x1="1097.7" y1="555.5" x2="1102.2" y2="555.5" stroke="#8e9aa3" stroke-width="1"/>
<line x1="2" y1="555.5" x2="1097.7" y2="555.5" stroke="#ececf0" stroke-width="1"/>
<line x1="1097.7" y1="627" x2="1102.2" y2="627" stroke="#8e9aa3" stroke-width="1"/>
<text x="1104" y="568.2" font-size="19.5" font-weight="bold" fill="#111">100</text>
<text x="1104" y="621.2" font-size="19.5" font-weight="bold" fill="#111">0</text>
<line x1="1097.7" y1="245" x2="1102.2" y2="245" stroke="#f0134a" stroke-width="1.2"/>
<rect x="1102.2" y="232.8" width="68.6" height="25.5" fill="#f0f0f0" stroke="#b4bcc3" stroke-width="1"/>
<text x="1104.4" y="252.8" font-size="19.3" fill="#e61650" stroke="#e61650" stroke-width="0.3">7,699.8</text>
<line x1="1097.7" y1="366.7" x2="1102.7" y2="366.7" stroke="#f5b014" stroke-width="1.2"/>
<line x1="1097.2" y1="365.4" x2="1102.7" y2="365.4" stroke="#222" stroke-width="1.3"/>
<rect x="1102" y="366.3" width="68.8" height="24.8" fill="#f3f3f3" stroke="#b4bcc3" stroke-width="1"/>
<text x="1104.4" y="385.9" font-size="19.3" fill="#f5931a" stroke="#f5931a" stroke-width="0.3">7,108.4</text>
<rect x="1102.3" y="340.3" width="68.3" height="25.8" fill="url(#yg)" stroke="#c9a400" stroke-width="0.9"/>
<text x="1104.4" y="360.8" font-size="19.3" fill="#000" stroke="#000" stroke-width="0.3">7,115.0</text>
<line x1="1097.7" y1="589" x2="1102.2" y2="589" stroke="#f0c000" stroke-width="1.4"/>
<rect x="1102.5" y="575.5" width="63" height="25.8" fill="#ededed" stroke="#b0b8c0" stroke-width="1"/>
<text x="1104.4" y="595.2" font-size="19.3" fill="#f5931a" stroke="#f5931a" stroke-width="0.3">53.608</text>
<text x="47.7" y="650" font-size="19.2" stroke="#111" stroke-width="0.3" fill="#111" text-anchor="middle">24</text>
<text x="98.0" y="650" font-size="20" font-weight="bold" fill="#111" text-anchor="middle">Jul</text>
<text x="148.3" y="650" font-size="19.2" stroke="#111" stroke-width="0.3" fill="#111" text-anchor="middle">08</text>
<text x="188.5" y="650" font-size="19.2" stroke="#111" stroke-width="0.3" fill="#111" text-anchor="middle">12</text>
<text x="248.8" y="650" font-size="19.2" stroke="#111" stroke-width="0.3" fill="#111" text-anchor="middle">22</text>
<text x="329.3" y="650" font-size="20" font-weight="bold" fill="#111" text-anchor="middle">Aug</text>
<text x="399.6" y="650" font-size="19.2" stroke="#111" stroke-width="0.3" fill="#111" text-anchor="middle">12</text>
<text x="439.9" y="650" font-size="19.2" stroke="#111" stroke-width="0.3" fill="#111" text-anchor="middle">16</text>
<text x="500.2" y="650" font-size="19.2" stroke="#111" stroke-width="0.3" fill="#111" text-anchor="middle">26</text>
<text x="550.5" y="650" font-size="20" font-weight="bold" fill="#111" text-anchor="middle">Sept</text>
<text x="610.8" y="650" font-size="19.2" stroke="#111" stroke-width="0.3" fill="#111" text-anchor="middle">10</text>
<text x="651.0" y="650" font-size="19.2" stroke="#111" stroke-width="0.3" fill="#111" text-anchor="middle">16</text>
<text x="691.2" y="650" font-size="19.2" stroke="#111" stroke-width="0.3" fill="#111" text-anchor="middle">20</text>
<text x="761.6" y="650" font-size="20" font-weight="bold" fill="#111" text-anchor="middle">Oct</text>
<text x="801.8" y="650" font-size="19.2" stroke="#111" stroke-width="0.3" fill="#111" text-anchor="middle">07</text>
<text x="862.2" y="650" font-size="19.2" stroke="#111" stroke-width="0.3" fill="#111" text-anchor="middle">15</text>
<text x="902.4" y="650" font-size="19.2" stroke="#111" stroke-width="0.3" fill="#111" text-anchor="middle">21</text>
<text x="942.6" y="650" font-size="19.2" stroke="#111" stroke-width="0.3" fill="#111" text-anchor="middle">25</text>
<text x="992.9" y="650" font-size="20" font-weight="bold" fill="#111" text-anchor="middle">Nov</text>
<text x="1053.2" y="650" font-size="19.2" stroke="#111" stroke-width="0.3" fill="#111" text-anchor="middle">11</text>
<rect x="0" y="0" width="1173" height="30.5" fill="url(#tb)"/>
<line x1="0" y1="30.5" x2="1173" y2="30.5" stroke="#9aa8b0" stroke-width="1.2"/>
<text x="29.5" y="23.6" font-size="19.3" font-weight="bold" fill="#111">US Crude (DFB) Daily 7,115.0 +1.03% 1 Nov 2024, 08:39:17</text>
<g id="demo"><rect x="3" y="17.8" width="22" height="7.2" fill="#0c1d38"/><text x="14" y="24.1" font-size="6.8" font-weight="bold" fill="#7fbcf0" text-anchor="middle" textLength="19.5" lengthAdjust="spacingAndGlyphs">DEMO</text>
<g stroke="#5aa6e2" stroke-width="0.9" fill="none"><line x1="9.4" y1="12.8" x2="9.4" y2="17.8"/><line x1="14.3" y1="10.6" x2="14.3" y2="17.8"/><line x1="19.4" y1="8.8" x2="19.4" y2="17.8"/>
<rect x="8.4" y="14.2" width="2" height="2.6" rx="0.8" fill="#cfe6f6"/><rect x="13.2" y="11.8" width="2.2" height="4" rx="0.9" fill="#cfe6f6"/><rect x="18.3" y="10" width="2.2" height="5.2" rx="0.9" fill="#cfe6f6"/></g></g>
<g><rect x="1.5" y="31" width="69.5" height="28" fill="#e3e9ed" stroke="#b4bec6" stroke-width="1"/>
<rect x="71" y="31" width="118" height="28" fill="#e3e9ed" stroke="#b4bec6" stroke-width="1"/>
<rect x="189" y="31" width="108.5" height="28" fill="#e3e9ed" stroke="#b4bec6" stroke-width="1"/>
<rect x="5" y="37" width="8.5" height="17" fill="#4fcf4f"/><rect x="13.5" y="37" width="8.5" height="17" fill="#e06060"/>
<rect x="76" y="37" width="17" height="17" fill="#ff0a3c"/><rect x="194" y="37" width="17" height="17" fill="#ff9a0a"/>
<g stroke="#111" stroke-width="0.35"><text x="26.8" y="52.6" font-size="19" fill="#111">Price</text><text x="96.8" y="52.6" font-size="19" fill="#111">SMA (200)</text><text x="215.3" y="52.6" font-size="19" fill="#111">SMA (55)</text></g></g>
<rect x="0" y="0" width="1173" height="1.2" fill="#9aa8b0"/>
<rect x="0" y="0" width="1.4" height="660" fill="#9aa5ad"/>
<rect x="1171.6" y="0" width="1.4" height="660" fill="#a3adb5"/>
<rect x="0" y="658.5" width="1173" height="1.5" fill="#a3adb5"/>
</svg></body></html>
